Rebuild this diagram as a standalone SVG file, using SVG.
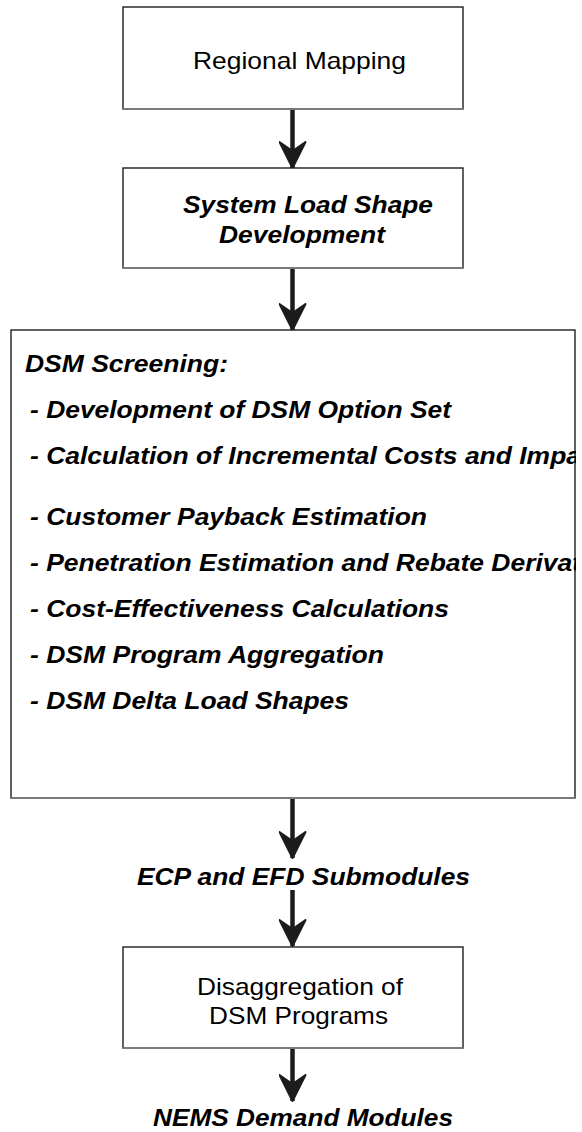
<svg xmlns="http://www.w3.org/2000/svg" width="582" height="1132" viewBox="0 0 582 1132">
  <style>
    .box { fill: #ffffff; stroke: #1e1e1e; stroke-width: 1.4; }
    .edge { stroke: #7a7a7a; stroke-width: 2; }
    .txt { font-family: "Liberation Sans", Arial, sans-serif; font-size: 24px; fill: #000000; }
    .bi { font-weight: bold; font-style: italic; }
    .shaft { fill: none; stroke: #1c1c1c; stroke-width: 4.5; }
  </style>
  <defs>
    <!-- notched arrowhead, pointing along the path direction -->
    <marker id="arrowhead" viewBox="0 0 28 28" refX="27" refY="14" markerWidth="28" markerHeight="28" markerUnits="userSpaceOnUse" orient="auto">
      <path d="M1,1 L27,14 L1,27 L10,14 Z" fill="#1c1c1c" stroke="#1c1c1c" stroke-width="2" stroke-linejoin="round"/>
    </marker>
    <clipPath id="screenClip">
      <rect x="11" y="330" width="565" height="468"/>
    </clipPath>
  </defs>

  <g id="connectors">
    <path class="shaft" d="M292.5,109 V168" marker-end="url(#arrowhead)"/>
    <path class="shaft" d="M292.5,268 V330" marker-end="url(#arrowhead)"/>
    <path class="shaft" d="M292.5,798 V858" marker-end="url(#arrowhead)"/>
    <path class="shaft" d="M292.5,890 V946" marker-end="url(#arrowhead)"/>
    <path class="shaft" d="M292.5,1048 V1101" marker-end="url(#arrowhead)"/>
  </g>

  <g id="regional-mapping">
    <rect class="box" x="123" y="7" width="340" height="102"/>
    <line class="edge" x1="123" y1="109" x2="463" y2="109"/>
    <text class="txt" x="193" y="69" textLength="213" lengthAdjust="spacingAndGlyphs">Regional Mapping</text>
  </g>

  <g id="system-load-shape">
    <rect class="box" x="123" y="168" width="340" height="100"/>
    <line class="edge" x1="123" y1="268" x2="463" y2="268"/>
    <text class="txt bi" x="183" y="213" textLength="250" lengthAdjust="spacingAndGlyphs">System Load Shape</text>
    <text class="txt bi" x="219" y="243" textLength="166" lengthAdjust="spacingAndGlyphs">Development</text>
  </g>

  <g id="dsm-screening">
    <rect class="box" x="11" y="330" width="564" height="468"/>
    <g clip-path="url(#screenClip)">
      <text class="txt bi" x="25" y="372" textLength="203" lengthAdjust="spacingAndGlyphs">DSM Screening:</text>
      <text class="txt bi" x="30" y="418" textLength="421" lengthAdjust="spacingAndGlyphs">- Development of DSM Option Set</text>
      <text class="txt bi" x="30" y="464" textLength="551" lengthAdjust="spacingAndGlyphs">- Calculation of Incremental Costs and Impa</text>
      <text class="txt bi" x="30" y="525" textLength="397" lengthAdjust="spacingAndGlyphs">- Customer Payback Estimation</text>
      <text class="txt bi" x="30" y="571" textLength="551" lengthAdjust="spacingAndGlyphs">- Penetration Estimation and Rebate Derivat</text>
      <text class="txt bi" x="30" y="617" textLength="419" lengthAdjust="spacingAndGlyphs">- Cost-Effectiveness Calculations</text>
      <text class="txt bi" x="30" y="663" textLength="354" lengthAdjust="spacingAndGlyphs">- DSM Program Aggregation</text>
      <text class="txt bi" x="30" y="709" textLength="319" lengthAdjust="spacingAndGlyphs">- DSM Delta Load Shapes</text>
    </g>
    <line class="edge" x1="11" y1="798" x2="575" y2="798"/>
  </g>

  <g id="ecp-efd">
    <text class="txt bi" x="137" y="885" textLength="333" lengthAdjust="spacingAndGlyphs">ECP and EFD Submodules</text>
  </g>

  <g id="disaggregation">
    <rect class="box" x="123" y="947" width="340" height="101"/>
    <line class="edge" x1="123" y1="1048" x2="463" y2="1048"/>
    <text class="txt" x="197" y="995" textLength="206" lengthAdjust="spacingAndGlyphs">Disaggregation of</text>
    <text class="txt" x="209" y="1024" textLength="179" lengthAdjust="spacingAndGlyphs">DSM Programs</text>
  </g>

  <g id="nems-demand">
    <text class="txt bi" x="153" y="1126" textLength="300" lengthAdjust="spacingAndGlyphs">NEMS Demand Modules</text>
  </g>
</svg>
